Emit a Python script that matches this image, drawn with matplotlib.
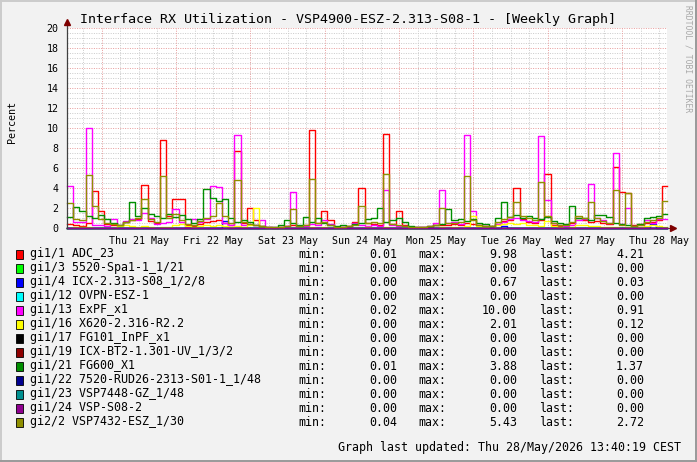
import numpy as np
import matplotlib.pyplot as plt
from matplotlib.lines import Line2D
from matplotlib.patches import Rectangle

W, H = 697, 462

# time axis: hours from Thu 21 May 00:00, one value every 2 hours
t_start = -11.13
t_end = 182.42
step_h = 2.0

day_labels = ["Thu 21 May", "Fri 22 May", "Sat 23 May", "Sun 24 May",
              "Mon 25 May", "Tue 26 May", "Wed 27 May", "Thu 28 May"]

adc23 = [0.4, 0.3, 0.2, 0.5, 3.7, 1.7, 0.4, 0.3, 0.2, 0.6,
         0.8, 0.9, 4.3, 0.7, 0.5, 8.8, 1.2, 2.9, 2.9, 0.3,
         0.2, 0.4, 0.6, 0.7, 0.8, 0.5, 0.3, 7.7, 0.5, 2.0,
         0.8, 0.2, 0.1, 0.01, 0.1, 0.2, 0.3, 0.2, 0.3, 9.8,
         0.5, 1.7, 0.8, 0.1, 0.1, 0.2, 0.6, 4.0, 0.5, 0.4,
         0.3, 9.4, 0.4, 1.7, 0.3, 0.1, 0.1, 0.1, 0.1, 0.3,
         0.3, 0.3, 0.4, 0.3, 0.5, 0.4, 0.3, 0.2, 0.2, 0.4,
         0.7, 0.8, 4.0, 0.9, 0.6, 0.5, 0.8, 5.4, 0.3, 0.2,
         0.3, 0.5, 1.0, 0.8, 0.6, 0.7, 0.5, 0.4, 6.1, 3.6,
         3.5, 0.3, 0.4, 0.5, 0.6, 0.8, 4.2]

expf = [4.2, 0.6, 0.6, 10.0, 0.3, 0.3, 0.2, 0.9, 0.3, 0.7,
        0.9, 0.8, 1.5, 1.0, 0.4, 0.5, 0.6, 1.9, 0.6, 0.1,
        0.9, 0.6, 0.9, 4.2, 4.1, 0.5, 0.3, 9.3, 0.3, 0.4,
        0.3, 0.8, 0.1, 0.1, 0.1, 0.2, 3.6, 0.2, 0.2, 0.4,
        0.3, 0.8, 0.4, 0.1, 0.1, 0.1, 0.5, 0.3, 0.2, 0.3,
        0.2, 3.8, 0.3, 0.2, 0.2, 0.1, 0.1, 0.1, 0.2, 0.5,
        3.8, 0.5, 0.6, 0.4, 9.3, 1.7, 0.3, 0.2, 0.1, 0.4,
        0.6, 0.9, 1.0, 0.8, 0.7, 0.6, 9.2, 2.8, 0.5, 0.3,
        0.2, 0.3, 0.8, 0.9, 4.4, 1.0, 0.8, 0.5, 7.5, 0.4,
        2.0, 0.2, 0.3, 0.8, 0.5, 0.9, 0.9]

vsp7432 = [2.5, 0.9, 0.8, 5.3, 2.2, 0.9, 0.5, 0.4, 0.3, 0.6,
           0.8, 1.0, 2.9, 0.9, 0.6, 5.2, 1.0, 1.4, 0.8, 0.4,
           0.3, 0.7, 1.0, 1.2, 2.5, 1.2, 0.5, 4.8, 0.6, 0.4,
           0.3, 0.2, 0.1, 0.1, 0.1, 0.2, 1.9, 0.2, 0.3, 4.9,
           0.5, 0.6, 0.3, 0.1, 0.1, 0.2, 0.3, 2.2, 0.5, 0.6,
           0.5, 5.4, 0.4, 0.3, 0.2, 0.1, 0.1, 0.1, 0.2, 0.3,
           2.0, 0.5, 0.5, 0.6, 5.2, 0.8, 0.3, 0.2, 0.2, 0.6,
           0.9, 1.1, 2.6, 1.2, 1.0, 0.8, 4.6, 1.2, 0.5, 0.3,
           0.3, 0.6, 1.2, 1.0, 2.6, 1.0, 0.7, 0.5, 3.8, 0.3,
           3.5, 0.2, 0.3, 0.6, 0.8, 1.0, 2.7]

fg600 = [1.1, 2.1, 1.7, 1.2, 1.0, 1.3, 0.9, 0.5, 0.3, 0.6,
         2.6, 1.2, 2.0, 1.4, 1.2, 1.0, 1.4, 1.1, 1.3, 0.9,
         0.5, 0.9, 3.9, 3.0, 2.7, 2.9, 1.0, 0.6, 0.8, 0.6,
         0.3, 0.2, 0.1, 0.1, 0.3, 0.8, 0.5, 0.3, 1.1, 0.6,
         1.0, 0.5, 0.3, 0.2, 0.3, 0.2, 0.4, 0.5, 0.9, 1.0,
         2.0, 0.6, 0.8, 1.0, 0.6, 0.2, 0.1, 0.1, 0.2, 0.3,
         0.4, 1.9, 0.8, 0.9, 0.7, 0.9, 0.5, 0.4, 0.2, 1.0,
         2.6, 1.1, 1.3, 1.0, 1.2, 1.0, 0.9, 1.1, 0.7, 0.5,
         0.4, 2.2, 1.0, 1.0, 0.8, 1.3, 1.3, 1.1, 0.5, 0.4,
         0.3, 0.2, 0.4, 1.0, 1.1, 1.2, 1.4]

x620 = [0.0, 0.1, 0.1, 0.1, 0.0, 0.0, 0.0, 0.0, 0.2, 0.3,
        0.2, 0.1, 0.2, 0.1, 0.0, 0.1, 0.1, 0.3, 0.4, 0.2,
        0.1, 0.2, 0.3, 0.2, 0.3, 0.2, 0.1, 0.2, 0.1, 0.3,
        2.0, 0.1, 0.0, 0.0, 0.0, 0.0, 0.0, 0.0, 0.0, 0.1,
        0.0, 0.1, 0.0, 0.0, 0.0, 0.0, 0.0, 0.0, 0.1, 0.0,
        0.0, 0.1, 0.0, 0.0, 0.0, 0.0, 0.0, 0.0, 0.0, 0.0,
        0.1, 0.0, 0.1, 0.0, 0.2, 1.2, 0.2, 0.1, 0.0, 0.3,
        0.4, 0.5, 0.4, 0.5, 0.3, 0.3, 0.2, 0.7, 0.2, 0.1,
        0.0, 0.1, 0.3, 0.3, 0.2, 0.2, 0.1, 0.1, 0.1, 0.0,
        0.1, 0.0, 0.1, 0.2, 0.3, 0.2, 0.1]

icx313 = [0.0, 0.0, 0.0, 0.0, 0.0, 0.0, 0.0, 0.0, 0.0, 0.0,
          0.0, 0.0, 0.0, 0.0, 0.0, 0.0, 0.0, 0.0, 0.0, 0.0,
          0.0, 0.0, 0.0, 0.0, 0.0, 0.67, 0.0, 0.0, 0.0, 0.0,
          0.0, 0.0, 0.0, 0.0, 0.0, 0.0, 0.0, 0.0, 0.0, 0.0,
          0.0, 0.0, 0.0, 0.0, 0.0, 0.0, 0.0, 0.0, 0.0, 0.0,
          0.0, 0.0, 0.0, 0.0, 0.0, 0.0, 0.0, 0.0, 0.0, 0.0,
          0.0, 0.0, 0.0, 0.0, 0.0, 0.0, 0.0, 0.0, 0.0, 0.0,
          0.2, 0.0, 0.0, 0.0, 0.0, 0.0, 0.0, 0.0, 0.0, 0.0,
          0.0, 0.0, 0.0, 0.0, 0.0, 0.0, 0.0, 0.0, 0.0, 0.0,
          0.0, 0.0, 0.0, 0.0, 0.4, 0.0, 0.03]

flat = [0.0] * len(adc23)   # interfaces with no traffic (max 0.00)

names = ["gi1/1 ADC_23", "gi1/3 5520-Spa1-1_1/21", "gi1/4 ICX-2.313-S08_1/2/8",
         "gi1/12 OVPN-ESZ-1", "gi1/13 ExPF_x1", "gi1/16 X620-2.316-R2.2",
         "gi1/17 FG101_InPF_x1", "gi1/19 ICX-BT2-1.301-UV_1/3/2", "gi1/21 FG600_X1",
         "gi1/22 7520-RUD26-2313-S01-1_1/48", "gi1/23 VSP7448-GZ_1/48",
         "gi1/24 VSP-S08-2", "gi2/2 VSP7432-ESZ_1/30"]
colors = ["#FF0000", "#00FF00", "#0000FF", "#00FFFF", "#FF00FF", "#FFFF00",
          "#000000", "#8F0000", "#008F00", "#00008F", "#008F8F", "#8F008F", "#8F8F00"]
series = [adc23, flat, icx313, flat, expf, x620, flat, flat, fg600,
          flat, flat, flat, vsp7432]
mins = [0.01, 0.00, 0.00, 0.00, 0.02, 0.00, 0.00, 0.00, 0.01, 0.00, 0.00, 0.00, 0.04]
maxs = [9.98, 0.00, 0.67, 0.00, 10.00, 2.01, 0.00, 0.00, 3.88, 0.00, 0.00, 0.00, 5.43]
lasts = [4.21, 0.00, 0.03, 0.00, 0.91, 0.12, 0.00, 0.00, 1.37, 0.00, 0.00, 0.00, 2.72]

mono = "DejaVu Sans Mono"


def fx(x):
    return x / W


def fy(y):
    return 1 - y / H


fig = plt.figure(figsize=(W / 100, H / 100), dpi=100, facecolor="#F2F2F2")

# shaded border like rrdtool
fig.add_artist(Line2D([0, 1], [fy(0.5), fy(0.5)], color="#CBCBCB", lw=1.4))
fig.add_artist(Line2D([fx(0.5), fx(0.5)], [0, 1], color="#CBCBCB", lw=1.4))
fig.add_artist(Line2D([0, 1], [fy(461.2), fy(461.2)], color="#999999", lw=1.4))
fig.add_artist(Line2D([fx(696.2), fx(696.2)], [0, 1], color="#999999", lw=1.4))

ax = fig.add_axes([fx(67), fy(228), 600 / W, 200 / H])
ax.set_facecolor("white")
ax.set_xlim(t_start, t_end)
ax.set_ylim(0, 20)
for s in ax.spines.values():
    s.set_visible(False)

# grid
dot = (0, (1, 1.4))
for v in np.arange(0.5, 20.01, 0.5):
    major = abs(v % 2) < 1e-9
    ax.axhline(v, color="#E8A0A0" if major else "#CCCCCC", lw=0.72, ls=dot, zorder=1)
for h in np.arange(-6, t_end, 6):
    major = abs(h % 24) < 1e-9
    ax.axvline(h, color="#E8A0A0" if major else "#CCCCCC", lw=0.72, ls=dot, zorder=1)

ax.set_yticks(np.arange(0, 21, 2))
ax.set_yticklabels([str(v) for v in range(0, 21, 2)], fontfamily=mono, fontsize=7.2)
ax.set_xticks([12 + 24 * k for k in range(len(day_labels))])
ax.set_xticklabels(day_labels, fontfamily=mono, fontsize=7.2)
ax.tick_params(length=0, pad=6)

hours = t_start + step_h * np.arange(len(adc23))
edges = np.append(hours, t_end)
for vals, c in zip(series, colors):
    ax.step(edges, np.append(vals, vals[-1]), where="post", color=c, lw=1.0,
            clip_on=False, zorder=3)

# axes with arrows
ax.plot([t_start, t_start], [0, 20.5], color="#404040", lw=0.9, clip_on=False, zorder=4)
ax.plot([t_start, 183.5], [0, 0], color="#7F0000", lw=0.6, clip_on=False, zorder=2)
ax.plot([t_start], [20.6], marker="^", ms=4, color="#7F0000", clip_on=False, zorder=5)
ax.plot([184.4], [0], marker=">", ms=4, color="#7F0000", clip_on=False, zorder=5)

fig.text(fx(348), fy(19), "Interface RX Utilization - VSP4900-ESZ-2.313-S08-1 - [Weekly Graph]",
         family=mono, fontsize=9.6, ha="center", va="center")
fig.text(fx(12), fy(122), "Percent", family=mono, fontsize=7.2, rotation=90,
         ha="center", va="center")
fig.text(fx(688), fy(5), "RRDTOOL / TOBI OETIKER", family=mono, fontsize=5.8,
         rotation=270, ha="center", va="top", color="#A8A8A8")

# legend rows
for k, name in enumerate(names):
    y = 254 + 14 * k
    fig.add_artist(Rectangle((fx(15.5), fy(y + 4.5)), 7.5 / W, 9 / H, transform=fig.transFigure,
                             facecolor=colors[k], edgecolor="black", lw=0.6))
    fig.text(fx(30), fy(y), name, family=mono, fontsize=8.4, va="center")
    fig.text(fx(298), fy(y), "min:", family=mono, fontsize=8.4, va="center")
    fig.text(fx(397), fy(y), f"{mins[k]:.2f}", family=mono, fontsize=8.4, va="center", ha="right")
    fig.text(fx(418), fy(y), "max:", family=mono, fontsize=8.4, va="center")
    fig.text(fx(517), fy(y), f"{maxs[k]:.2f}", family=mono, fontsize=8.4, va="center", ha="right")
    fig.text(fx(539), fy(y), "last:", family=mono, fontsize=8.4, va="center")
    fig.text(fx(644), fy(y), f"{lasts[k]:.2f}", family=mono, fontsize=8.4, va="center", ha="right")

fig.text(fx(681), fy(448), "Graph last updated: Thu 28/May/2026 13:40:19 CEST",
         family=mono, fontsize=8.4, ha="right", va="center")

fig.savefig("out.png", dpi=100, facecolor=fig.get_facecolor())
